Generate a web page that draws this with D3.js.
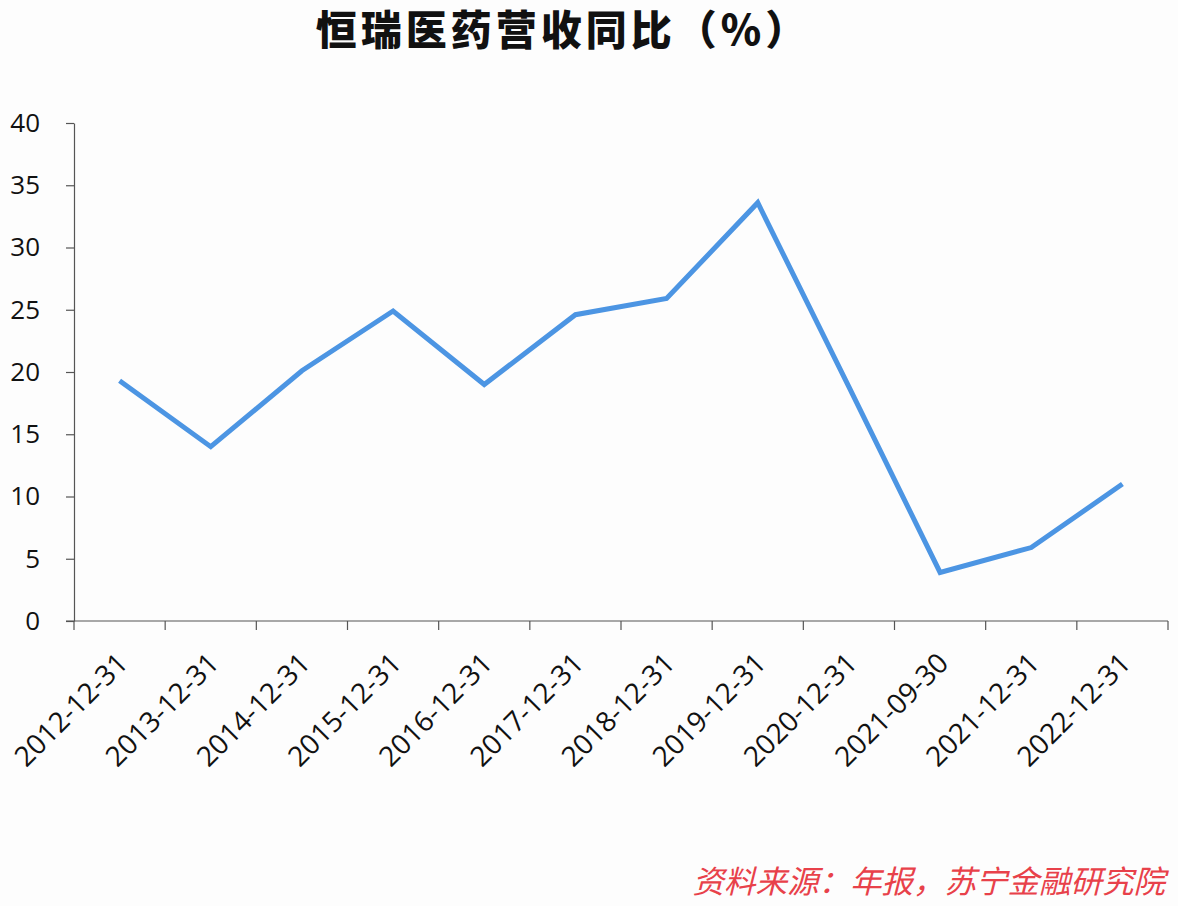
<!DOCTYPE html>
<html>
<head>
<meta charset="utf-8">
<script src="https://cdn.jsdelivr.net/npm/d3@7"></script>
<style>
  body { margin: 0; background: #fdfdfd; }
  svg { display: block; }
</style>
</head>
<body>
<div id="chart"></div>
<script>
// data
const dates = ["2012-12-31", "2013-12-31", "2014-12-31", "2015-12-31", "2016-12-31", "2017-12-31",
  "2018-12-31", "2019-12-31", "2020-12-31", "2021-09-30", "2021-12-31", "2022-12-31"];
const growth = [19.3, 14.0, 20.1, 24.9, 19.0, 24.6, 25.9, 33.6, 18.8, 3.9, 5.9, 11.0];
const yTicks = [0, 5, 10, 15, 20, 25, 30, 35, 40];
const title = "恒瑞医药营收同比（%）";
const source = "资料来源：年报，苏宁金融研究院";

const width = 1178, height = 906;
const plotLeft = 74, plotRight = 1168, plotTop = 123, plotBottom = 621;

const svg = d3.select("#chart")
  .append("svg")
  .attr("width", width)
  .attr("height", height);

// category axis, ticks sit between the categories like in excel
const xScale = d3.scaleBand()
  .domain(dates)
  .range([plotLeft, plotRight]);

const yScale = d3.scaleLinear()
  .domain([0, 40])
  .range([plotBottom, plotTop]);

// y axis
const yAxis = svg.append("g")
  .attr("transform", `translate(${plotLeft},0)`)
  .call(d3.axisLeft(yScale).tickValues(yTicks).tickSize(8).tickPadding(26).tickSizeOuter(0));
yAxis.select(".domain").attr("stroke", "#555").attr("stroke-width", 1.2);
yAxis.selectAll(".tick line").attr("stroke", "#555").attr("stroke-width", 1.2);
yAxis.selectAll("text")
  .style("font-family", "'Open Sans', 'Liberation Sans', sans-serif")
  .style("font-size", "26px")
  .attr("fill", "#111");

// x axis line + ticks at band edges
const xg = svg.append("g");
xg.append("line")
  .attr("x1", plotLeft - 8).attr("x2", plotRight)
  .attr("y1", plotBottom).attr("y2", plotBottom)
  .attr("stroke", "#555").attr("stroke-width", 1.2);
const edges = dates.map(d => xScale(d)).concat([plotRight]);
xg.selectAll(".xtick")
  .data(edges)
  .enter()
  .append("line")
  .attr("class", "xtick")
  .attr("x1", d => d).attr("x2", d => d)
  .attr("y1", plotBottom).attr("y2", plotBottom + 9)
  .attr("stroke", "#555").attr("stroke-width", 1.2);

// rotated date labels
xg.selectAll(".xlabel")
  .data(dates)
  .enter()
  .append("text")
  .attr("class", "xlabel")
  .attr("transform", d => `translate(${xScale(d) + xScale.bandwidth() / 2 + 3},${plotBottom + 37}) rotate(-45)`)
  .attr("text-anchor", "end")
  .attr("dy", "0.35em")
  .style("font-family", "'Open Sans', 'Liberation Sans', sans-serif")
  .style("font-size", "28px")
  .attr("fill", "#111")
  .text(d => d);

// the line
const line = d3.line()
  .x((d, i) => xScale(dates[i]) + xScale.bandwidth() / 2)
  .y(d => yScale(d));

svg.append("path")
  .datum(growth)
  .attr("d", line)
  .attr("fill", "none")
  .attr("stroke", "#4c95e3")
  .attr("stroke-width", 5)
  .attr("stroke-linejoin", "miter");

// title
svg.append("text")
  .attr("x", 563)
  .attr("y", 45)
  .attr("text-anchor", "middle")
  .style("font-family", "'Noto Sans CJK SC', sans-serif")
  .style("font-weight", 900)
  .style("font-size", "41px")
  .style("letter-spacing", "4px")
  .attr("fill", "#111")
  .text(title);

// source note
svg.append("text")
  .attr("x", 1165)
  .attr("y", 893)
  .attr("text-anchor", "end")
  .style("font-family", "'Noto Sans CJK SC', sans-serif")
  .style("font-style", "italic")
  .style("font-size", "31.5px")
  .attr("fill", "#e8414a")
  .text(source);
</script>
</body>
</html>
